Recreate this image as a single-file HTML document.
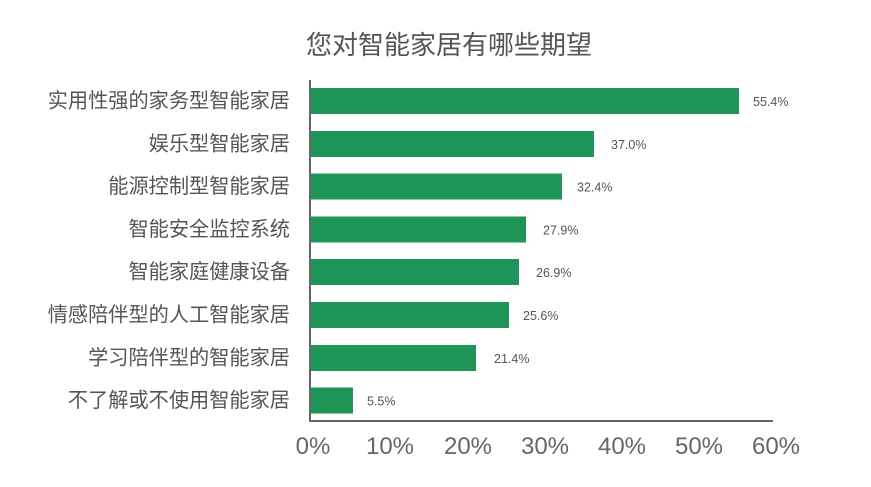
<!DOCTYPE html>
<html><head><meta charset="utf-8"><style>
html,body{margin:0;padding:0;background:#fff;}
svg{display:block;}
.cat{font-family:"Liberation Sans","Noto Sans CJK SC",sans-serif;font-size:20.2px;fill:#555;}
.val{font-family:"Liberation Sans",sans-serif;font-size:12.5px;fill:#555;}
.tick{font-family:"Liberation Sans",sans-serif;font-size:24px;fill:#666;}
</style></head><body>
<svg width="871" height="487" viewBox="0 0 871 487" xmlns="http://www.w3.org/2000/svg">
<rect width="871" height="487" fill="#fff"/>
<text x="449" y="54" text-anchor="middle" font-family="'Liberation Sans','Noto Sans CJK SC',sans-serif" font-size="26" fill="#555">您对智能家居有哪些期望</text>
<g fill="#1f9457">
<rect x="311" y="88" width="428" height="26"/>
<rect x="311" y="131" width="283" height="26"/>
<rect x="311" y="173.5" width="251" height="26"/>
<rect x="311" y="216.5" width="215" height="26"/>
<rect x="311" y="259" width="208" height="26"/>
<rect x="311" y="302" width="198" height="26"/>
<rect x="311" y="345" width="165" height="26"/>
<rect x="311" y="387.5" width="42" height="26"/>
</g>
<g class="cat" text-anchor="end">
<text x="290" y="107.5">实用性强的家务型智能家居</text>
<text x="290" y="150.5">娱乐型智能家居</text>
<text x="290" y="193">能源控制型智能家居</text>
<text x="290" y="236">智能安全监控系统</text>
<text x="290" y="278.5">智能家庭健康设备</text>
<text x="290" y="321.5">情感陪伴型的人工智能家居</text>
<text x="290" y="364.5">学习陪伴型的智能家居</text>
<text x="290" y="407">不了解或不使用智能家居</text>
</g>
<g class="val">
<text x="753" y="106">55.4%</text>
<text x="611" y="149">37.0%</text>
<text x="577" y="191.5">32.4%</text>
<text x="543" y="234.5">27.9%</text>
<text x="536" y="277">26.9%</text>
<text x="523" y="320">25.6%</text>
<text x="494" y="363">21.4%</text>
<text x="367" y="405.5">5.5%</text>
</g>
<line x1="310" y1="80" x2="310" y2="422" stroke="#666" stroke-width="2"/>
<line x1="309" y1="421" x2="773" y2="421" stroke="#666" stroke-width="2"/>
<g class="tick" text-anchor="middle">
<text x="313" y="454">0%</text>
<text x="390" y="454">10%</text>
<text x="468" y="454">20%</text>
<text x="545" y="454">30%</text>
<text x="622" y="454">40%</text>
<text x="699" y="454">50%</text>
<text x="776" y="454">60%</text>
</g>
</svg>
</body></html>
